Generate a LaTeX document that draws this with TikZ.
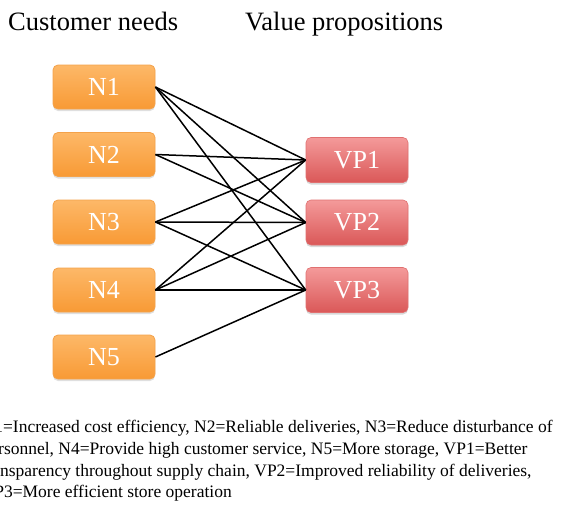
\documentclass[tikz,border=0pt]{standalone}
\usepackage{fontspec}
\setmainfont{Liberation Serif}
\usetikzlibrary{shadows}
\definecolor{orTop}{HTML}{FDB868}
\definecolor{orBot}{HTML}{F89A35}
\definecolor{orLine}{HTML}{F4A24A}
\definecolor{rdTop}{HTML}{F49A9A}
\definecolor{rdBot}{HTML}{DA5858}
\definecolor{rdLine}{HTML}{E07070}
\tikzset{
  needbox/.style={rectangle, rounded corners=5pt, minimum width=102pt, minimum height=44pt,
    top color=orTop, bottom color=orBot, draw=orLine, line width=0.8pt, text=white,
    font=\fontsize{26}{28}\selectfont, inner sep=0pt,
    drop shadow={shadow xshift=0pt, shadow yshift=-2pt, opacity=0.25}},
  vpbox/.style={rectangle, rounded corners=5pt, minimum width=102pt, minimum height=45pt,
    top color=rdTop, bottom color=rdBot, draw=rdLine, line width=0.6pt, text=white,
    font=\fontsize{26}{28}\selectfont, inner sep=0pt,
    drop shadow={shadow xshift=0pt, shadow yshift=-2pt, opacity=0.3}},
  link/.style={black, line width=1.5pt},
  title/.style={font=\fontsize{26.5}{28}\selectfont, anchor=base west, inner sep=0pt},
  legend/.style={font=\fontsize{17.5}{21.7}\selectfont, anchor=base west, inner sep=0pt}
}
\begin{document}
\begin{tikzpicture}[x=1pt,y=-1pt]
\useasboundingbox[fill=white] (0,0) rectangle (577,506);
\node[title] (t1) at (8,30) {Customer needs};
\node[title] (t2) at (245,30) {Value propositions};
\node[needbox] (n1) at (104,87) {N1};
\node[needbox] (n2) at (104,154.5) {N2};
\node[needbox] (n3) at (104,222) {N3};
\node[needbox] (n4) at (104,290) {N4};
\node[needbox] (n5) at (104,357) {N5};
\node[vpbox] (v1) at (357,160) {VP1};
\node[vpbox] (v2) at (357,222.5) {VP2};
\node[vpbox] (v3) at (357,290) {VP3};
\foreach \a/\b in {n1/v1,n1/v2,n1/v3,n2/v1,n2/v2,n3/v1,n3/v2,n3/v3,n4/v1,n4/v2,n4/v3,n5/v3}
  \draw[link] (\a.east) -- (\b.west);
\node[legend] (l1) at (-18.5,432.7) {N1=Increased cost efficiency, N2=Reliable deliveries, N3=Reduce disturbance of};
\node[legend] (l2) at (-18.5,454.4) {personnel, N4=Provide high customer service, N5=More storage, VP1=Better};
\node[legend] (l3) at (-18.5,476.1) {transparency throughout supply chain, VP2=Improved reliability of deliveries,};
\node[legend] (l4) at (-18.5,497.8) {VP3=More efficient store operation};
\end{tikzpicture}
\end{document}
